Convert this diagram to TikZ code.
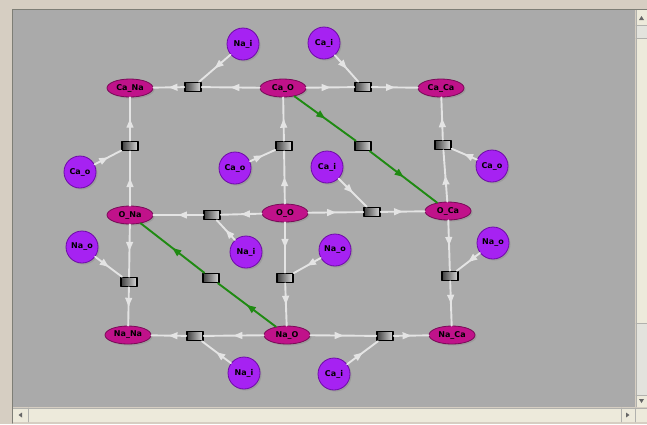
\documentclass[tikz,border=0pt]{standalone}
\usepackage{fontspec}
\setmainfont{DejaVu Sans}
\usetikzlibrary{arrows,shapes.geometric,shadows,decorations.markings}
\definecolor{wintan}{HTML}{D6CEC2}
\definecolor{canvasgray}{HTML}{AAAAAA}
\definecolor{barbeige}{HTML}{EDEADB}
\definecolor{barlight}{HTML}{E3E3DD}
\definecolor{framegray}{HTML}{7E7E76}
\definecolor{placefill}{HTML}{C0128A}
\definecolor{placeline}{HTML}{7A0A58}
\definecolor{tokenfill}{HTML}{A622F2}
\definecolor{tokenline}{HTML}{6E0AA8}
\definecolor{arcgray}{HTML}{E4E4E4}
\definecolor{arcgreen}{HTML}{1F8A12}
\begin{document}
\begin{tikzpicture}[line cap=round,line join=round,>=triangle 45,x=1pt,y=-1pt,
state/.style={ellipse,draw=placeline,line width=0.8pt,fill=placefill,minimum width=46pt,minimum height=18pt,inner sep=0pt,font=\fontsize{8}{9}\selectfont\bfseries,drop shadow={opacity=0.35,shadow xshift=1.5pt,shadow yshift=-1.5pt}},
ion/.style={circle,draw=tokenline,line width=0.8pt,fill=tokenfill,minimum size=32pt,inner sep=0pt,font=\fontsize{8}{9}\selectfont\bfseries,drop shadow={opacity=0.35,shadow xshift=1.5pt,shadow yshift=-1.5pt}},
trans/.style={rectangle,draw=black,line width=1.5pt,left color=black!75,right color=white!85!black,minimum width=16pt,minimum height=9pt,inner sep=0pt},
flow/.style={color=arcgray,line width=1.9pt,postaction={decorate},decoration={markings,mark=at position 0.5 with {\arrow[scale=0.7]{>}}}},
greenflow/.style={flow,color=arcgreen}]
\useasboundingbox (0,0) rectangle (647,424);
\fill [wintan] (0,0) rectangle (647,424);
\fill [canvasgray] (13,10) rectangle (635,407);
\fill [barlight] (636,10) rectangle (647,407);
\fill [barbeige] (636,38) rectangle (647,323);
\fill [barbeige] (636,10) rectangle (647,25);
\fill [barbeige] (636,395) rectangle (647,407);
\fill [barbeige] (13,408) rectangle (647,422);
\draw [framegray!60,line width=0.6pt] (636,10) -- (636,407) (636,25) -- (647,25) (636,38) -- (647,38) (636,323) -- (647,323) (636,395) -- (647,395);
\draw [framegray!60,line width=0.6pt] (13,408) -- (647,408) (28,408) -- (28,422) (621,408) -- (621,422) (635,408) -- (635,422);
\draw [framegray,line width=1pt] (12.5,9.5) -- (647,9.5) (12.5,9.5) -- (12.5,423);
\fill [black!60] (639,20) -- (644,20) -- (641.5,16) -- cycle;
\fill [black!60] (639,399) -- (644,399) -- (641.5,403) -- cycle;
\fill [black!60] (22,412.5) -- (22,417.5) -- (18.5,415) -- cycle;
\fill [black!60] (626,412.5) -- (626,417.5) -- (629.5,415) -- cycle;
\node [state] (CaNa) at (130,88) {Ca\_Na};
\node [state] (CaO) at (283,88) {Ca\_O};
\node [state] (CaCa) at (441,88) {Ca\_Ca};
\node [state] (ONa) at (130,215) {O\_Na};
\node [state] (OO) at (285,213) {O\_O};
\node [state] (OCa) at (448,211) {O\_Ca};
\node [state] (NaNa) at (128,335) {Na\_Na};
\node [state] (NaO) at (287,335) {Na\_O};
\node [state] (NaCa) at (452,335) {Na\_Ca};
\node [ion] (NaiTop) at (243,44) {Na\_i};
\node [ion] (CaiTop) at (324,43) {Ca\_i};
\node [ion] (CaoL) at (80,172) {Ca\_o};
\node [ion] (CaoM) at (235,168) {Ca\_o};
\node [ion] (CaiM) at (327,167) {Ca\_i};
\node [ion] (CaoR) at (492,166) {Ca\_o};
\node [ion] (NaoL) at (82,247) {Na\_o};
\node [ion] (NaiM) at (246,252) {Na\_i};
\node [ion] (NaoM) at (335,250) {Na\_o};
\node [ion] (NaoR) at (493,243) {Na\_o};
\node [ion] (NaiB) at (244,373) {Na\_i};
\node [ion] (CaiB) at (334,374) {Ca\_i};
\node [trans] (t1) at (193,87) {};
\node [trans] (t2) at (363,87) {};
\node [trans] (t3) at (130,146) {};
\node [trans] (t4) at (284,146) {};
\node [trans] (t5) at (363,146) {};
\node [trans] (t6) at (443,145) {};
\node [trans] (t7) at (212,215) {};
\node [trans] (t8) at (372,212) {};
\node [trans] (t9) at (129,282) {};
\node [trans] (t10) at (211,278) {};
\node [trans] (t11) at (285,278) {};
\node [trans] (t12) at (450,276) {};
\node [trans] (t13) at (195,336) {};
\node [trans] (t14) at (385,336) {};
\draw [flow] (CaO) -- (t1);
\draw [flow] (t1) -- (CaNa);
\draw [flow] (NaiTop) -- (t1);
\draw [flow] (CaO) -- (t2);
\draw [flow] (t2) -- (CaCa);
\draw [flow] (CaiTop) -- (t2);
\draw [flow] (ONa) -- (t3);
\draw [flow] (t3) -- (CaNa);
\draw [flow] (CaoL) -- (t3);
\draw [flow] (OO) -- (t4);
\draw [flow] (t4) -- (CaO);
\draw [flow] (CaoM) -- (t4);
\draw [greenflow] (CaO) -- (t5);
\draw [greenflow] (t5) -- (OCa);
\draw [flow] (OCa) -- (t6);
\draw [flow] (t6) -- (CaCa);
\draw [flow] (CaoR) -- (t6);
\draw [flow] (OO) -- (t7);
\draw [flow] (t7) -- (ONa);
\draw [flow] (NaiM) -- (t7);
\draw [flow] (OO) -- (t8);
\draw [flow] (t8) -- (OCa);
\draw [flow] (CaiM) -- (t8);
\draw [flow] (ONa) -- (t9);
\draw [flow] (t9) -- (NaNa);
\draw [flow] (NaoL) -- (t9);
\draw [greenflow] (NaO) -- (t10);
\draw [greenflow] (t10) -- (ONa);
\draw [flow] (OO) -- (t11);
\draw [flow] (t11) -- (NaO);
\draw [flow] (NaoM) -- (t11);
\draw [flow] (OCa) -- (t12);
\draw [flow] (t12) -- (NaCa);
\draw [flow] (NaoR) -- (t12);
\draw [flow] (NaO) -- (t13);
\draw [flow] (t13) -- (NaNa);
\draw [flow] (NaiB) -- (t13);
\draw [flow] (NaO) -- (t14);
\draw [flow] (t14) -- (NaCa);
\draw [flow] (CaiB) -- (t14);
\end{tikzpicture}
\end{document}
